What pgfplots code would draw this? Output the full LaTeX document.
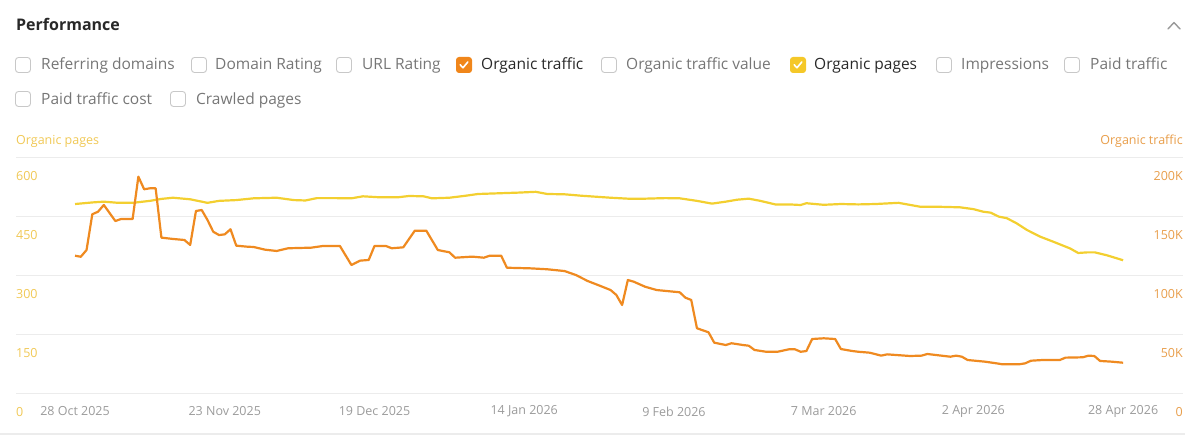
\documentclass[border=0pt]{standalone}
\usepackage{pgfplots}
\pgfplotsset{compat=1.18}
\usepackage{pgfplotstable}
\usepackage{fontspec}
\setmainfont{Open Sans}

\definecolor{trafficline}{RGB}{239,138,32}
\definecolor{pagesline}{RGB}{243,207,48}
\definecolor{trafficbox}{RGB}{240,134,26}
\definecolor{pagesbox}{RGB}{245,200,40}
\definecolor{pageslabel}{RGB}{240,200,85}
\definecolor{trafficlabel}{RGB}{232,158,75}
\definecolor{gridgray}{RGB}{236,236,236}
\definecolor{dategray}{RGB}{155,155,155}
\definecolor{offtext}{RGB}{118,118,118}
\definecolor{ontext}{RGB}{40,40,40}
\definecolor{boxborder}{RGB}{200,200,200}

% Organic pages, by day since 28 Oct 2025
\pgfplotstableread{
day pages
0 483
3 487
5 489
7.5 486
10 486
13 491
15 496
17 499
20 495
23 486
25 491
28 493
31 497.5
35 499
38 493
40 492
42 498
45 498
48 497.5
50 502.6
53 500
56 500
58 503.4
60.5 502.6
62 497.5
65 499
67.5 503.4
70 508.5
73 510
77 512
80 514
82 508.5
85 507.7
88 504
91 501
93 499
96 496.6
99 496.6
102.5 498
105 497.5
108 491
110.6 484
113 489
115 494
117 496.6
119 491
121.6 482
124 482
126 480.5
127 485
130 481
133 483
136 482
139 483
143 486
146.8 476
150 476
153.7 474.6
156 470
157.7 463.5
159 461
160.4 451
161.8 447
163.5 434
165.3 417
167.6 400
169.9 387
172.8 370
174.2 358.5
175.7 360
177.1 360
179.1 353
180.9 345
182 340
}\pagestable

% Organic traffic (thousands), by day since 28 Oct 2025
\pgfplotstableread{
day traffic
0 117.2
1 116.3
2 122
3 152.3
4 154.5
5 160.2
7 146.6
8 148.3
10 148.3
11 184.2
12 173.5
13 174.3
14 174.3
15 132.5
17 131.4
19 130.5
20 126.3
21 155.1
22 155.9
23 147.5
24 137.5
25 134.7
26 135.3
27 139.6
28 125.7
30 124.8
31 124.6
33 122.3
35 121.2
37 123.5
41 124
43 125.4
46 125.4
48 109.3
49.5 113
51 113.6
52 125.4
54 125.4
55 123.5
57 124.3
59 138.4
61 138.4
63 122
65 120.1
66 115.5
69 116.4
71 115.5
72 117.2
74 117.2
75 107
79 106.5
82 105.7
85 104.2
87 100.8
89 95.8
91 92
93 88.1
94 83.9
95 75.4
96 96.6
97 95.2
99 90.9
101 88.1
105 86.2
106 81.6
107 79.7
108 55.7
110 52.3
111 43.5
113 41.5
114 43
116 41.5
117 40.9
118 37.3
120 35.8
122 35.8
124 37.9
125 37.9
126 35.8
127 36.4
128 46.6
130 47.2
132 46.6
133 38.1
135 36.4
136 35.8
138 35
140 32.5
141 33.6
145 32.2
147 32.5
148 33.9
152 31.6
153 32.5
154 31.6
155 28.8
158 27.4
160 26
161 25.2
164 25.2
165 26
166 28.2
168 28.8
171 28.8
172 30.8
175 31.1
176 32.5
177 32.2
178 28
180 27.4
182 26.5
}\traffictable

% metric toggles: empty box and ticked box
\newcommand{\offbox}[2]{%
  \draw[boxborder, line width=0.9pt, rounded corners=3pt] (#1+0.5,#2-7.5) rectangle (#1+15.5,#2+7.5);}
\newcommand{\onbox}[3]{%
  \fill[#3, rounded corners=3pt] (#1,#2-8) rectangle (#1+16,#2+8);
  \draw[white, line width=1.6pt, line cap=round, line join=round]
    (#1+4.2,#2+0.2) -- (#1+7,#2-2.8) -- (#1+11.8,#2+3);}

\begin{document}
\begin{tikzpicture}[x=1pt, y=1pt]
\path[use as bounding box] (0,0) rectangle (1200,438);

% header
\node[anchor=base west, inner sep=0, font=\fontsize{16}{19}\selectfont\bfseries, text=ontext] at (16,407) {Performance};
\draw[gray!80, line width=1.4pt, line cap=round, line join=round] (1168,409) -- (1174,415.5) -- (1180,409);

\begin{scope}[every node/.style={anchor=base west, inner sep=0, font=\fontsize{15.5}{18}\selectfont}]
\offbox{15}{373}  \node[text=offtext] at (41,368) {Referring domains};
\offbox{191}{373} \node[text=offtext] at (215,368) {Domain Rating};
\offbox{336}{373} \node[text=offtext] at (362,368) {URL Rating};
\onbox{456}{373}{trafficbox} \node[text=ontext] at (481,368) {Organic traffic};
\offbox{601}{373} \node[text=offtext] at (626,368) {Organic traffic value};
\onbox{790}{373}{pagesbox} \node[text=ontext] at (814,368) {Organic pages};
\offbox{936}{373} \node[text=offtext] at (961,368) {Impressions};
\offbox{1064}{373} \node[text=offtext] at (1090,368) {Paid traffic};
\offbox{15}{339}  \node[text=offtext] at (41,333.5) {Paid traffic cost};
\offbox{170}{339} \node[text=offtext] at (196,333.5) {Crawled pages};
\end{scope}

% axis titles
\node[anchor=base west, inner sep=0, font=\fontsize{12.5}{15}\selectfont, text=pageslabel] at (16,293) {Organic pages};
\node[anchor=base east, inner sep=0, font=\fontsize{12.5}{15}\selectfont, text=trafficlabel] at (1183,293) {Organic traffic};

% card bottom edge
\draw[gridgray, line width=1.2pt] (0,4) -- (1185,4);

% left axis: organic pages, dates, grid
\begin{axis}[
  at={(16pt,44pt)}, anchor=south west, scale only axis,
  width=1167pt, height=236pt,
  xmin=-10.25, xmax=192.4, ymin=0, ymax=600,
  axis line style={draw=none}, tick style={draw=none},
  ymajorgrids, major grid style={draw=gridgray, line width=1pt},
  ytick={0,150,300,450,600},
  yticklabels={0,150,300,450,600},
  yticklabel style={anchor=west, inner sep=0, yshift=-18pt, text=pageslabel, font=\fontsize{12.5}{15}\selectfont},
  xtick={0,26,52,78,104,130,156,182},
  xticklabels={28 Oct 2025,23 Nov 2025,19 Dec 2025,14 Jan 2026,9 Feb 2026,7 Mar 2026,2 Apr 2026,28 Apr 2026},
  xticklabel style={anchor=center, inner sep=0, yshift=-17.5pt, text=dategray, font=\fontsize{12.5}{15}\selectfont},
  clip=false,
]
\addplot[pagesline, line width=2.2pt, line join=round] table[x=day, y=pages] {\pagestable};
\end{axis}

% right axis: organic traffic
\begin{axis}[
  at={(16pt,44pt)}, anchor=south west, scale only axis,
  width=1167pt, height=236pt,
  xmin=-10.25, xmax=192.4, ymin=0, ymax=200,
  axis line style={draw=none}, tick style={draw=none},
  xtick=\empty,
  yticklabel pos=right,
  ytick={0,50,100,150,200},
  yticklabels={0,50K,100K,150K,200K},
  yticklabel style={anchor=east, inner sep=0, yshift=-18pt, text=trafficlabel, font=\fontsize{12.5}{15}\selectfont},
  clip=false,
]
\addplot[trafficline, line width=2.2pt, line join=round] table[x=day, y=traffic] {\traffictable};
\end{axis}
\end{tikzpicture}
\end{document}
